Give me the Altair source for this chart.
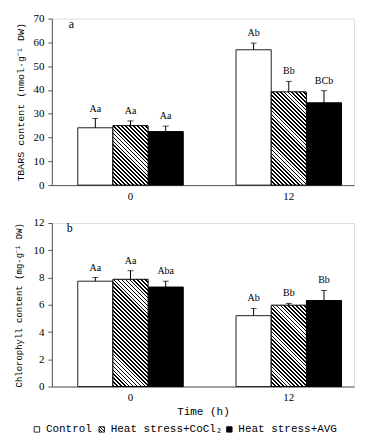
import altair as alt
import pandas as pd

times = ["0", "12"]
series = ["Control", "Heat stress+CoCl2", "Heat stress+AVG"]

# Panel a: TBARS content (values at 0 h, 12 h)
tbars_control = [24.1, 56.9]
tbars_cocl2 = [25.0, 39.2]
tbars_avg = [22.5, 34.6]
tbars_control_err = [3.9, 2.8]
tbars_cocl2_err = [2.0, 4.4]
tbars_avg_err = [2.3, 5.1]
tbars_control_lab = ["Aa", "Ab"]
tbars_cocl2_lab = ["Aa", "Bb"]
tbars_avg_lab = ["Aa", "BCb"]

# Panel b: Chlorophyll content (values at 0 h, 12 h)
chl_control = [7.73, 5.2]
chl_cocl2 = [7.87, 5.97]
chl_avg = [7.3, 6.31]
chl_control_err = [0.27, 0.53]
chl_cocl2_err = [0.63, 0.13]
chl_avg_err = [0.43, 0.74]
chl_control_lab = ["Aa", "Ab"]
chl_cocl2_lab = ["Aa", "Bb"]
chl_avg_lab = ["Aba", "Bb"]

legend_labels = ["Control", "Heat stress+CoCl\u2082", "Heat stress+AVG"]

SERIF = "Liberation Serif"
MONO = "Liberation Mono"
AX = "#555555"

PLOT_W = 303
PI = 53 / 159
PO = 19.25 / 159
ALIGN = 0.675
STEP = PLOT_W / (2 - PI + 2 * PO)
BAR_W = STEP * (1 - PI) / 3


def build_df(means, errs, labs):
    rows = []
    for s, m, e, l in zip(series, means, errs, labs):
        for i, t in enumerate(times):
            rows.append({"time": t, "series": s, "value": m[i], "top": m[i] + e[i], "label": l[i]})
    return pd.DataFrame(rows)


def hatch(h_px, w_px, period=2.8, ink=0.45):
    a = (w_px + h_px) / (w_px ** 2 + h_px ** 2)
    x2 = a * w_px
    y2 = 1 - a * h_px
    L = (w_px + h_px) / 2 ** 0.5
    n = max(1, round(L / period))
    stops = []
    for k in range(n):
        s = k / n
        m = (k + ink) / n
        e = (k + 1) / n
        stops += [
            {"offset": s, "color": "black"},
            {"offset": m, "color": "black"},
            {"offset": m, "color": "white"},
            {"offset": e, "color": "white"},
        ]
    return {"gradient": "linear", "x1": 0, "y1": 1, "x2": x2, "y2": y2, "stops": stops}


def panel(df, ymax, ystep, title, title_size, title_pad, letter, letter_x, height, xtitle):
    pxu = height / ymax
    xaxis_kw = dict(labelAngle=0, ticks=False, domainColor=AX, labelFont=SERIF,
                    labelFontSize=11, labelPadding=5, labelColor="black")
    if xtitle:
        xaxis_kw.update(title=xtitle, titleFont=MONO, titleFontSize=11,
                        titleFontWeight="normal", titlePadding=3, titleColor="black")
    else:
        xaxis_kw.update(title="")
    xscale = alt.Scale(domain=times, paddingInner=PI, paddingOuter=PO, align=ALIGN)
    x = alt.X("time:N", scale=xscale, axis=alt.Axis(**xaxis_kw), sort=times)
    xoff = alt.XOffset("series:N", scale=alt.Scale(domain=series, paddingInner=0, paddingOuter=0), sort=series)
    yscale = alt.Scale(domain=[0, ymax], nice=False)
    yaxis = alt.Axis(values=list(range(0, ymax + 1, ystep)), grid=False,
                     domainColor=AX, tickColor=AX, tickSize=4, labelPadding=4,
                     labelFont=SERIF, labelFontSize=11, labelColor="black",
                     titleFont=MONO, titleFontSize=title_size, titleFontWeight="normal",
                     titlePadding=title_pad, titleColor="black")

    def Y(field):
        return alt.Y(field, scale=yscale, axis=yaxis, title=title)

    base = alt.Chart(df).encode(x=x, xOffset=xoff)

    ctrl = base.transform_filter(alt.datum.series == series[0]).mark_bar(
        fill="white", stroke="#222222", strokeWidth=1).encode(y=Y("value:Q"))
    avg = base.transform_filter(alt.datum.series == series[2]).mark_bar(
        fill="black", stroke="black", strokeWidth=1).encode(y=Y("value:Q"))
    layers = [ctrl, avg]
    sub = df[df.series == series[1]]
    for t in times:
        v = float(sub[sub.time == t].value.iloc[0])
        layers.append(
            base.transform_filter((alt.datum.series == series[1]) & (alt.datum.time == t))
            .mark_bar(fill=hatch(v * pxu, BAR_W), stroke="black", strokeWidth=1)
            .encode(y=Y("value:Q"))
        )
    err = base.mark_rule(color="black", strokeWidth=1).encode(y=Y("value:Q"), y2="top:Q")
    cap = base.mark_tick(color="black", size=6, thickness=1).encode(y=Y("top:Q"))
    lab = base.mark_text(font=SERIF, fontSize=10, dy=-5, baseline="bottom", color="black").encode(
        y=Y("top:Q"), text="label:N")
    let = alt.Chart(pd.DataFrame({"t": [letter]})).mark_text(
        font=SERIF, fontSize=12, align="left", baseline="middle", color="black").encode(
        x=alt.value(letter_x), y=alt.value(5), text="t:N")
    layers += [err, cap, lab, let]
    return layers


df_a = build_df([tbars_control, tbars_cocl2, tbars_avg],
                [tbars_control_err, tbars_cocl2_err, tbars_avg_err],
                [tbars_control_lab, tbars_cocl2_lab, tbars_avg_lab])
df_b = build_df([chl_control, chl_cocl2, chl_avg],
                [chl_control_err, chl_cocl2_err, chl_avg_err],
                [chl_control_lab, chl_cocl2_lab, chl_avg_lab])

la = panel(df_a, 70, 10, "TBARS content (nmol\u00b7g\u207b\u00b9 DW)", 10, 7, "a", 17, 167, None)
lb = panel(df_b, 12, 2, "Chlorophyll content (mg\u00b7g\u207b\u00b9 DW)", 9, 9, "b", 15, 164, "Time (h)")

# legend below panel b: symbols as squares, labels as text
LEG_Y = 164 + 43
sym_x = [-15, 50, 178]
sym_fill = ["white", hatch(6, 6, period=2.2), "black"]
for i in range(3):
    d = pd.DataFrame({"lab": [legend_labels[i]]})
    lb.append(alt.Chart(d).mark_square(size=30, fill=sym_fill[i], stroke="black",
                                       strokeWidth=0.8, opacity=1).encode(
        x=alt.value(sym_x[i]), y=alt.value(LEG_Y)))
    lb.append(alt.Chart(d).mark_text(font=MONO, fontSize=11, align="left",
                                     baseline="middle", color="black").encode(
        x=alt.value(sym_x[i] + 9), y=alt.value(LEG_Y), text="lab:N"))

pa = alt.layer(*la).properties(width=PLOT_W, height=167)
pb = alt.layer(*lb).properties(width=PLOT_W, height=164)

chart = (
    alt.vconcat(pa, pb, spacing=14)
    .properties(padding={"left": 6, "top": 3, "right": 3, "bottom": 5})
    .configure_view(stroke=None)
    .configure(background="white")
)

chart.save("out.html", embed_options={"renderer": "svg", "actions": False})
